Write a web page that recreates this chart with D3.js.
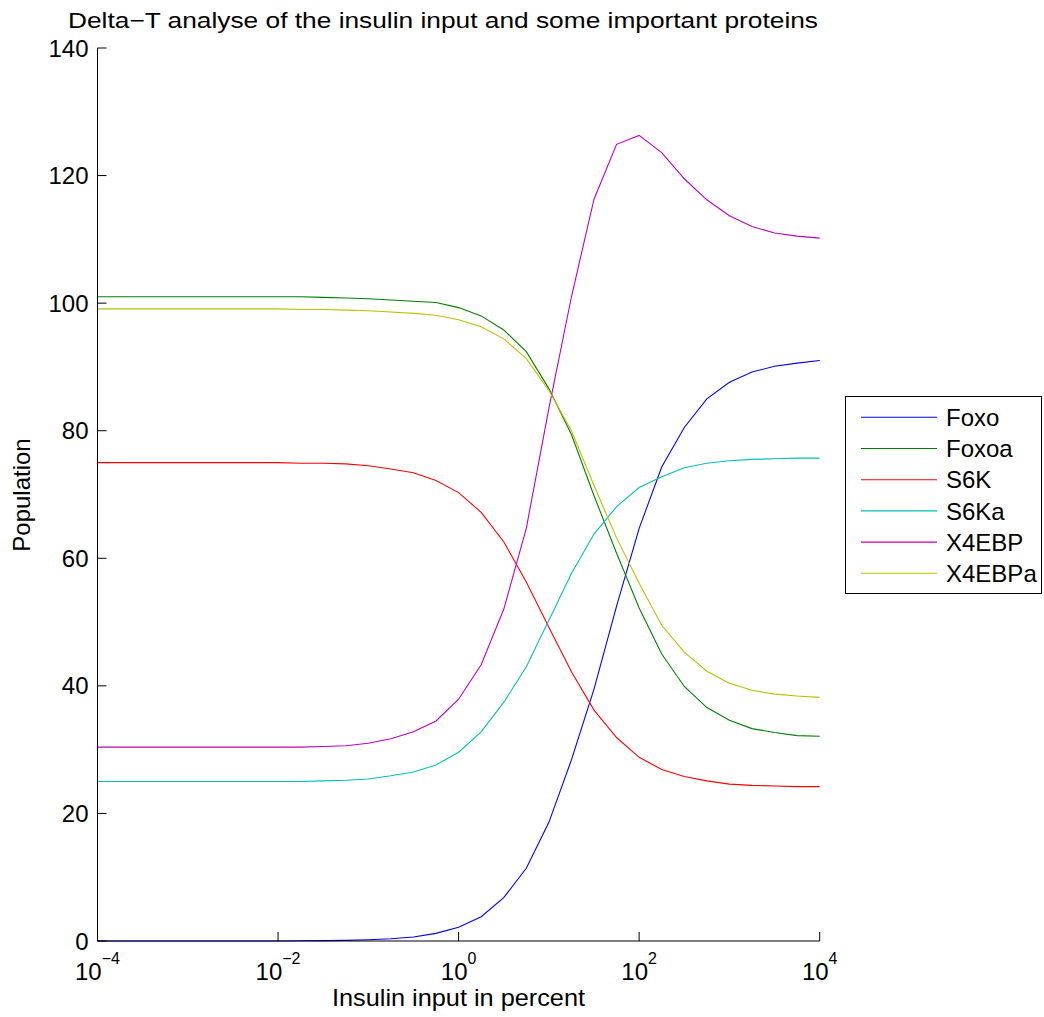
<!DOCTYPE html>
<html>
<head>
<meta charset="utf-8">
<script src="https://cdn.jsdelivr.net/npm/d3@7/dist/d3.min.js"></script>
<style>
  html, body { margin: 0; padding: 0; background: #fff; }
  svg { display: block; font-family: "Liberation Sans", Arial, sans-serif; }
</style>
</head>
<body>
<svg id="chart" width="1044" height="1017"></svg>
<script>
// ---- data ----
const xExp = [-4, -3.75, -3.5, -3.25, -3, -2.75, -2.5, -2.25, -2, -1.75, -1.5, -1.25, -1, -0.75, -0.5, -0.25,
              0, 0.25, 0.5, 0.75, 1, 1.25, 1.5, 1.75, 2, 2.25, 2.5, 2.75, 3, 3.25, 3.5, 3.75, 4];
const seriesNames = ["Foxo", "Foxoa", "S6K", "S6Ka", "X4EBP", "X4EBPa"];
const seriesColors = ["#0000ff", "#008000", "#ff0000", "#00bfbf", "#bf00bf", "#bfbf00"];
const foxo   = [0, 0, 0, 0, 0, 0, 0, 0, 0, 0.03, 0.06, 0.1, 0.2, 0.35, 0.63, 1.2,
                2.15, 3.8, 6.8, 11.4, 18.6, 28.4, 39.5, 52.5, 64.7, 74.3, 80.5, 85.0, 87.6, 89.2, 90.1, 90.6, 91.0];
const foxoa  = [101.0, 101.0, 101.0, 101.0, 101.0, 101.0, 101.0, 101.0, 101.0, 101.0, 100.9, 100.8, 100.7, 100.5, 100.3, 100.1,
                99.3, 98.0, 95.8, 92.4, 86.6, 79.4, 69.8, 60.8, 52.2, 45.0, 39.9, 36.6, 34.6, 33.3, 32.7, 32.2, 32.1];
const s6k    = [75.0, 75.0, 75.0, 75.0, 75.0, 75.0, 75.0, 75.0, 75.0, 74.9, 74.9, 74.8, 74.5, 74.0, 73.4, 72.2,
                70.3, 67.2, 62.6, 56.3, 49.2, 42.2, 36.2, 31.9, 28.8, 26.9, 25.8, 25.1, 24.6, 24.4, 24.3, 24.2, 24.2];
const s6ka   = [25.0, 25.0, 25.0, 25.0, 25.0, 25.0, 25.0, 25.0, 25.0, 25.0, 25.1, 25.2, 25.4, 25.9, 26.5, 27.6,
                29.6, 32.8, 37.4, 43.0, 50.3, 57.6, 63.8, 68.1, 71.1, 72.8, 74.2, 74.9, 75.3, 75.5, 75.6, 75.7, 75.7];
const x4ebp  = [30.4, 30.4, 30.4, 30.4, 30.4, 30.4, 30.4, 30.4, 30.4, 30.4, 30.5, 30.6, 31.0, 31.7, 32.8, 34.5,
                37.9, 43.3, 52.0, 64.7, 83.5, 101.0, 116.3, 124.9, 126.3, 123.6, 119.5, 116.2, 113.7, 112.0, 111.0, 110.5, 110.2];
const x4ebpa = [99.1, 99.1, 99.1, 99.1, 99.1, 99.1, 99.1, 99.1, 99.1, 99.0, 99.0, 98.9, 98.8, 98.6, 98.4, 98.1,
                97.4, 96.3, 94.4, 91.3, 86.3, 80.0, 71.4, 63.2, 56.1, 49.5, 45.3, 42.3, 40.4, 39.3, 38.7, 38.4, 38.2];
const xTickExp = [-4, -2, 0, 2, 4];
const yTicks = [0, 20, 40, 60, 80, 100, 120, 140];
const titleText = "Delta\u2212T analyse of the insulin input and some important proteins";
const xLabelText = "Insulin input in percent";
const yLabelText = "Population";

const seriesValues = [foxo, foxoa, s6k, s6ka, x4ebp, x4ebpa];

// ---- layout ----
const svg = d3.select("#chart");
const plotL = 97.5, plotR = 819.7, plotT = 48, plotB = 941;

const x = d3.scaleLog().domain([1e-4, 1e4]).range([plotL, plotR]);
const y = d3.scaleLinear().domain([0, 140]).range([plotB, plotT]);

const line = d3.line().x(d => x(d[0])).y(d => y(d[1]));

// series
seriesValues.forEach((vals, i) => {
  const pts = xExp.map((e, j) => [Math.pow(10, e), vals[j]]);
  svg.append("path")
    .datum(pts)
    .attr("fill", "none")
    .attr("stroke", seriesColors[i])
    .attr("stroke-width", 1.1)
    .attr("d", line);
});

// axes (box off, ticks inward)
const axisG = svg.append("g");
axisG.append("line").attr("x1", plotL).attr("x2", plotL).attr("y1", plotT).attr("y2", plotB)
  .attr("stroke", "#000").attr("stroke-width", 1);
axisG.append("line").attr("x1", plotL).attr("x2", plotR).attr("y1", plotB).attr("y2", plotB)
  .attr("stroke", "#000").attr("stroke-width", 1);

// y ticks
yTicks.forEach(t => {
  axisG.append("line").attr("x1", plotL).attr("x2", plotL + 9).attr("y1", y(t)).attr("y2", y(t))
    .attr("stroke", "#000").attr("stroke-width", 1);
  axisG.append("text").attr("x", plotL - 9).attr("y", y(t)).attr("dy", "0.36em")
    .attr("text-anchor", "end").attr("font-size", 24).attr("fill", "#000").text(t);
});

// x ticks
xTickExp.forEach(e => {
  const xv = x(Math.pow(10, e));
  axisG.append("line").attr("x1", xv).attr("x2", xv).attr("y1", plotB).attr("y2", plotB - 9)
    .attr("stroke", "#000").attr("stroke-width", 1);
  const t = axisG.append("text").attr("x", xv).attr("y", 980)
    .attr("text-anchor", "middle").attr("font-size", 24).attr("fill", "#000");
  t.append("tspan").text("10");
  t.append("tspan").attr("font-size", 16).attr("dy", -16)
    .text(e < 0 ? "\u2212" + Math.abs(e) : String(e));
});

// title
svg.append("text").attr("x", 443).attr("y", 28).attr("text-anchor", "middle")
  .attr("font-size", 22).attr("fill", "#000")
  .attr("textLength", 750).attr("lengthAdjust", "spacingAndGlyphs")
  .text(titleText);

// x label
svg.append("text").attr("x", 458.5).attr("y", 1006).attr("text-anchor", "middle")
  .attr("font-size", 24).attr("fill", "#000")
  .attr("textLength", 253).attr("lengthAdjust", "spacingAndGlyphs")
  .text(xLabelText);

// y label
svg.append("text").attr("transform", "translate(30,495) rotate(-90)")
  .attr("text-anchor", "middle").attr("font-size", 24).attr("fill", "#000")
  .text(yLabelText);

// legend
const lg = svg.append("g");
lg.append("rect").attr("x", 845.5).attr("y", 396.5).attr("width", 196).attr("height", 197)
  .attr("fill", "#fff").attr("stroke", "#000").attr("stroke-width", 1);
seriesNames.forEach((n, i) => {
  const ly = 417.3 + i * 31.2;
  lg.append("line").attr("x1", 861).attr("x2", 937).attr("y1", ly).attr("y2", ly)
    .attr("stroke", seriesColors[i]).attr("stroke-width", 1.1);
  lg.append("text").attr("x", 946).attr("y", ly).attr("dy", "0.36em")
    .attr("font-size", 24).attr("fill", "#000").text(n);
});
</script>
</body>
</html>
